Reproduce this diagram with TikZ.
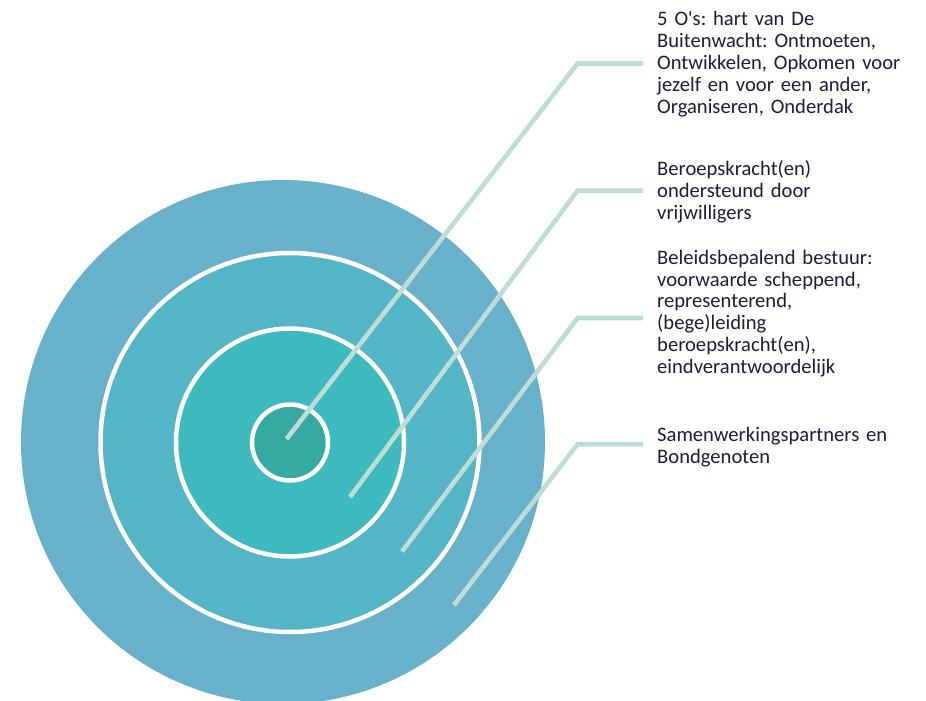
\documentclass[tikz,border=0pt]{standalone}
\usepackage{fontspec}
\newfontfamily\labelfont{Carlito}
\definecolor{ringA}{HTML}{68B1CA}
\definecolor{ringB}{HTML}{53B5C6}
\definecolor{ringC}{HTML}{3EB9BE}
\definecolor{ringD}{HTML}{36AAA2}
\definecolor{leader}{HTML}{BEDDD7}
\definecolor{txt}{HTML}{1E1C3A}
\tikzset{
  ring/.style={draw=white, line width=4.5pt},
  leaderline/.style={draw=leader, line width=4.6pt, line cap=butt, line join=miter},
  label/.style={anchor=base west, text width=280pt, align=left, inner xsep=14pt, inner ysep=0pt,
    text=txt, font=\labelfont\frenchspacing\fontsize{20.6pt}{21.8pt}\selectfont}
}
\begin{document}
\begin{tikzpicture}[x=1pt,y=-1pt]
\useasboundingbox (0,0) rectangle (926,701);
\clip (0,0) rectangle (926,701);
\coordinate (c) at (290,442.5);
\coordinate (co) at (283,442);
% circles
\fill[ringA] (co) circle[radius=262];
\filldraw[ring, fill=ringB] (c) circle[radius=189.5];
\filldraw[ring, fill=ringC] (c) circle[radius=114];
\filldraw[ring, fill=ringD] (c) circle[radius=38];
% labels
\node[label] (t1) at (643,26) {5 O's: hart van De\\Buitenwacht: Ontmoeten,\\Ontwikkelen, Opkomen voor\\jezelf en voor een ander,\\Organiseren, Onderdak};
\node[label] (t2) at (643,175.7) {Beroepskracht(en)\\ondersteund door\\vrijwilligers};
\node[label] (t3) at (643,264.3) {Beleidsbepalend bestuur:\\voorwaarde scheppend,\\representerend,\\(bege)leiding\\beroepskracht(en),\\eindverantwoordelijk};
\node[label] (t4) at (643,441.5) {Samenwerkingspartners en\\Bondgenoten};
% leader points
\coordinate (s1) at (286.5,439);
\coordinate (s2) at (350,497);
\coordinate (s3) at (402,551.5);
\coordinate (s4) at (454,605);
\coordinate (k1) at (577.5,63.5);
\coordinate (k2) at (577.5,190.7);
\coordinate (k3) at (577.5,318);
\coordinate (k4) at (577.5,444.3);
\draw[leaderline] (s1) -- (k1) -- (k1 -| t1.west);
\draw[leaderline] (s2) -- (k2) -- (k2 -| t2.west);
\draw[leaderline] (s3) -- (k3) -- (k3 -| t3.west);
\draw[leaderline] (s4) -- (k4) -- (k4 -| t4.west);
\end{tikzpicture}
\end{document}
